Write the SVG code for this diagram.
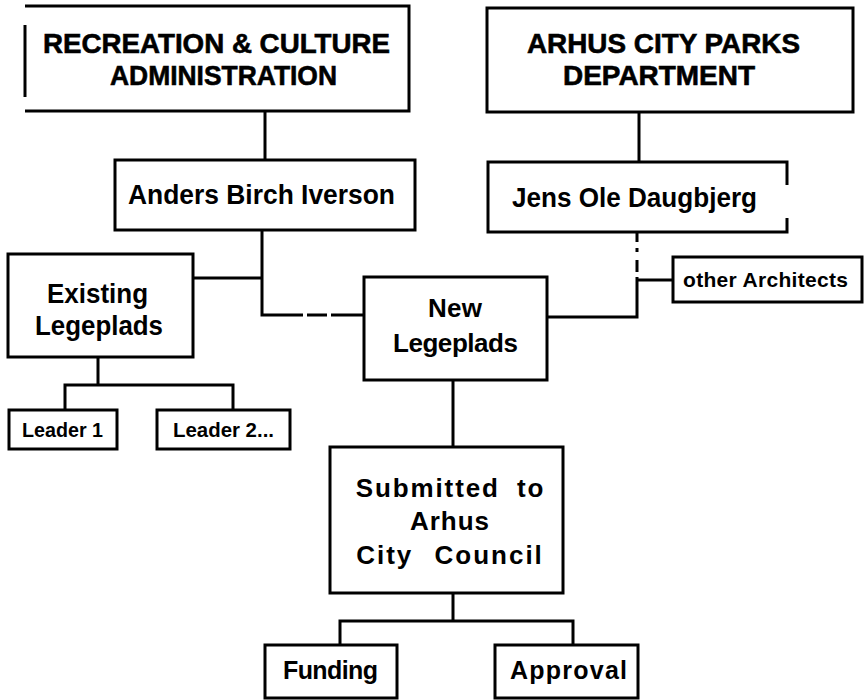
<svg xmlns="http://www.w3.org/2000/svg" width="866" height="700" viewBox="0 0 866 700">
<style>
.box{fill:#fff;stroke:#000;stroke-width:3;stroke-linejoin:miter}
.edge{fill:none;stroke:#000;stroke-width:3}
.conn{fill:none;stroke:#000;stroke-width:3}
text{font-family:"Liberation Sans",Arial,sans-serif;font-weight:bold;fill:#000;text-anchor:middle}
.h{font-size:28px;stroke:#000;stroke-width:0.6}
.t{font-size:28px}
.m{font-size:26px}
.n{font-size:25px}
.s{font-size:21px}
</style>
<rect width="866" height="700" fill="#fff"/>
<g id="connectors">
<path class="conn" d="M265,112 V160"/>
<path class="conn" d="M639,113 V162"/>
<path class="conn" d="M262,230 V315 H303 M307,315 H327 M331,315 H364"/>
<path class="conn" d="M193,278 H262"/>
<path class="conn" d="M98,357 V385 M65,410 V385 H233 V410"/>
<path class="conn" d="M637,232 V242 M637,248 V252 M637,260 V272 M637,277 V317 H547"/>
<path class="conn" d="M637,280 H673"/>
<path class="conn" d="M453,380 V447"/>
<path class="conn" d="M453,593 V621 M340,645 V621 H573 V645"/>
</g>
<g id="recreation">
<path class="box" d="M25,6 H409 V111 H25" />
<path class="edge" d="M25,25 V97"/>
<text class="h" x="216.5" y="53" textLength="347" lengthAdjust="spacingAndGlyphs">RECREATION &amp; CULTURE</text>
<text class="h" x="223.5" y="85" textLength="227" lengthAdjust="spacingAndGlyphs">ADMINISTRATION</text>
</g>
<g id="arhus-parks">
<rect class="box" x="487" y="8" width="366" height="104"/>
<text class="h" x="663.5" y="53" textLength="273" lengthAdjust="spacingAndGlyphs">ARHUS CITY PARKS</text>
<text class="h" x="659" y="85" textLength="192" lengthAdjust="spacingAndGlyphs">DEPARTMENT</text>
</g>
<g id="anders">
<rect class="box" x="115" y="160" width="300" height="70"/>
<text class="t" x="261.5" y="204" textLength="267" lengthAdjust="spacingAndGlyphs">Anders Birch Iverson</text>
</g>
<g id="jens">
<path class="box" d="M787,185 V162 H488 V232 H787 V218"/>
<text class="t" x="634.5" y="207" textLength="245" lengthAdjust="spacingAndGlyphs">Jens Ole Daugbjerg</text>
</g>
<g id="existing">
<rect class="box" x="8" y="254" width="185" height="103"/>
<text class="t" x="97.5" y="303" textLength="101" lengthAdjust="spacingAndGlyphs">Existing</text>
<text class="t" x="99" y="335" textLength="128" lengthAdjust="spacingAndGlyphs">Legeplads</text>
</g>
<g id="new">
<rect class="box" x="364" y="277" width="183" height="103"/>
<text class="m" x="455" y="317" textLength="54" lengthAdjust="spacing">New</text>
<text class="m" x="455.5" y="352" textLength="125" lengthAdjust="spacing">Legeplads</text>
</g>
<g id="other-architects">
<rect class="box" x="673" y="257" width="189" height="45"/>
<text class="s" x="765.5" y="287" textLength="165" lengthAdjust="spacing">other Architects</text>
</g>
<g id="leader1">
<rect class="box" x="9" y="410" width="108" height="39"/>
<text class="s" x="62.5" y="437" textLength="81" lengthAdjust="spacingAndGlyphs">Leader 1</text>
</g>
<g id="leader2">
<rect class="box" x="157" y="410" width="133" height="39"/>
<text class="s" x="223.5" y="437" textLength="101" lengthAdjust="spacingAndGlyphs">Leader 2...</text>
</g>
<g id="council">
<rect class="box" x="330" y="447" width="233" height="146"/>
<text class="m" x="450.5" y="497" letter-spacing="1.9" word-spacing="8">Submitted to</text>
<text class="m" x="450" y="530" letter-spacing="1">Arhus</text>
<text class="m" x="450" y="564" letter-spacing="2" word-spacing="12">City Council</text>
</g>
<g id="funding">
<rect class="box" x="265" y="645" width="132" height="53"/>
<text class="n" x="330.5" y="679" textLength="95" lengthAdjust="spacing">Funding</text>
</g>
<g id="approval">
<rect class="box" x="495" y="645" width="143" height="53"/>
<text class="n" x="568.5" y="679" textLength="117" lengthAdjust="spacing">Approval</text>
</g>
</svg>
